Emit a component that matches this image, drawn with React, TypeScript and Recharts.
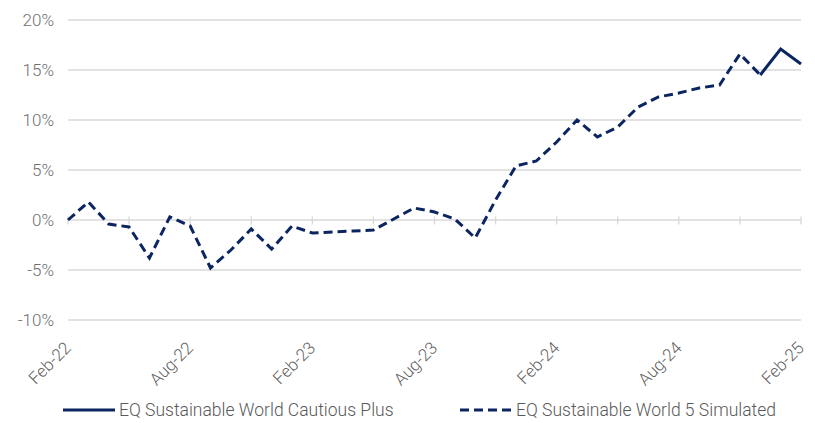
import React from "react";
import {
    CartesianGrid,
    Legend,
    Line,
    LineChart,
    ReferenceLine,
    XAxis,
    YAxis,
} from "recharts";

const months = [
    "Feb-22", "Mar-22", "Apr-22", "May-22", "Jun-22", "Jul-22", "Aug-22",
    "Sep-22", "Oct-22", "Nov-22", "Dec-22", "Jan-23", "Feb-23", "Mar-23",
    "Apr-23", "May-23", "Jun-23", "Jul-23", "Aug-23", "Sep-23", "Oct-23",
    "Nov-23", "Dec-23", "Jan-24", "Feb-24", "Mar-24", "Apr-24", "May-24",
    "Jun-24", "Jul-24", "Aug-24", "Sep-24", "Oct-24", "Nov-24", "Dec-24",
    "Jan-25", "Feb-25",
];

// simulated track record, ends where the real fund takes over
const simulated = [
    0.0, 1.8, -0.4, -0.7, -3.8, 0.3, -0.6, -4.8, -3.0, -0.9, -2.9, -0.6,
    -1.3, -1.2, -1.1, -1.0, 0.1, 1.2, 0.8, 0.1, -1.8, 2.0, 5.4, 5.9,
    7.8, 10.0, 8.3, 9.3, 11.3, 12.3, 12.7, 13.2, 13.5, 16.6, 14.5, null,
    null,
];

const cautiousPlus = [
    null, null, null, null, null, null, null, null, null, null, null, null,
    null, null, null, null, null, null, null, null, null, null, null, null,
    null, null, null, null, null, null, null, null, null, null, 14.5, 17.1,
    15.6,
];

const yTicks = [-10, -5, 0, 5, 10, 15, 20];
const tickMonths = months.filter((_, i) => i % 3 === 0);

const NAVY = "#0b2560";
const FONT = "Roboto, 'Noto Sans', sans-serif";

const data = months.map((month, i) => ({
    month,
    simulated: simulated[i],
    cautious: cautiousPlus[i],
}));

function MonthTick({ x, y, payload }: any) {
    return (
        <text
            x={x + 4}
            y={y + 21}
            transform={`rotate(-45 ${x + 4} ${y + 21})`}
            textAnchor="end"
            fill="#5f5f5f"
            fontSize={17}
            fontWeight={300}
            fontFamily={FONT}
        >
            {payload.value}
        </text>
    );
}

function ChartLegend() {
    const item = (label: string, dashed: boolean, width: number) => (
        <div style={{ display: "flex", alignItems: "center", width }}>
            <svg width={52} height={6} style={{ marginRight: 4 }}>
                <line
                    x1={0}
                    y1={3}
                    x2={52}
                    y2={3}
                    stroke={NAVY}
                    strokeWidth={3}
                    strokeDasharray={dashed ? "9 5" : undefined}
                />
            </svg>
            <span>{label}</span>
        </div>
    );
    return (
        <div
            style={{
                height: 30,
                boxSizing: "border-box",
                paddingTop: 4,
                paddingLeft: 55,
                display: "flex",
                alignItems: "center",
                fontFamily: FONT,
                fontWeight: 300,
                fontSize: 17.5,
                color: "#595959",
            }}
        >
            {item("EQ Sustainable World Cautious Plus", false, 397)}
            {item("EQ Sustainable World 5 Simulated", true, 340)}
        </div>
    );
}

export default function App() {
    return (
        <LineChart
            width={807}
            height={415}
            data={data}
            margin={{ top: 12, right: 14, bottom: 0, left: 0 }}
        >
            <CartesianGrid vertical={false} stroke="#d9d9d9" strokeWidth={1.3} />
            <XAxis
                dataKey="month"
                interval={5}
                axisLine={false}
                tickLine={false}
                height={73}
                tick={<MonthTick />}
            />
            <YAxis
                domain={[-10, 20]}
                ticks={yTicks}
                width={60}
                axisLine={false}
                tickLine={false}
                tickSize={0}
                tickMargin={14}
                tickFormatter={(v) => `${v}%`}
                tick={{
                    fill: "#6f6f6f",
                    fontSize: 17,
                    fontWeight: 300,
                    fontFamily: FONT,
                }}
            />
            {tickMonths.map((m) => (
                <ReferenceLine
                    key={m}
                    segment={[
                        { x: m, y: 0.35 },
                        { x: m, y: -0.45 },
                    ]}
                    stroke="#d9d9d9"
                    strokeWidth={1.3}
                />
            ))}
            <Legend verticalAlign="bottom" content={<ChartLegend />} />
            <Line
                dataKey="simulated"
                stroke={NAVY}
                strokeWidth={3}
                strokeDasharray="9 5"
                dot={false}
                isAnimationActive={false}
            />
            <Line
                dataKey="cautious"
                stroke={NAVY}
                strokeWidth={3}
                dot={false}
                isAnimationActive={false}
            />
        </LineChart>
    );
}
